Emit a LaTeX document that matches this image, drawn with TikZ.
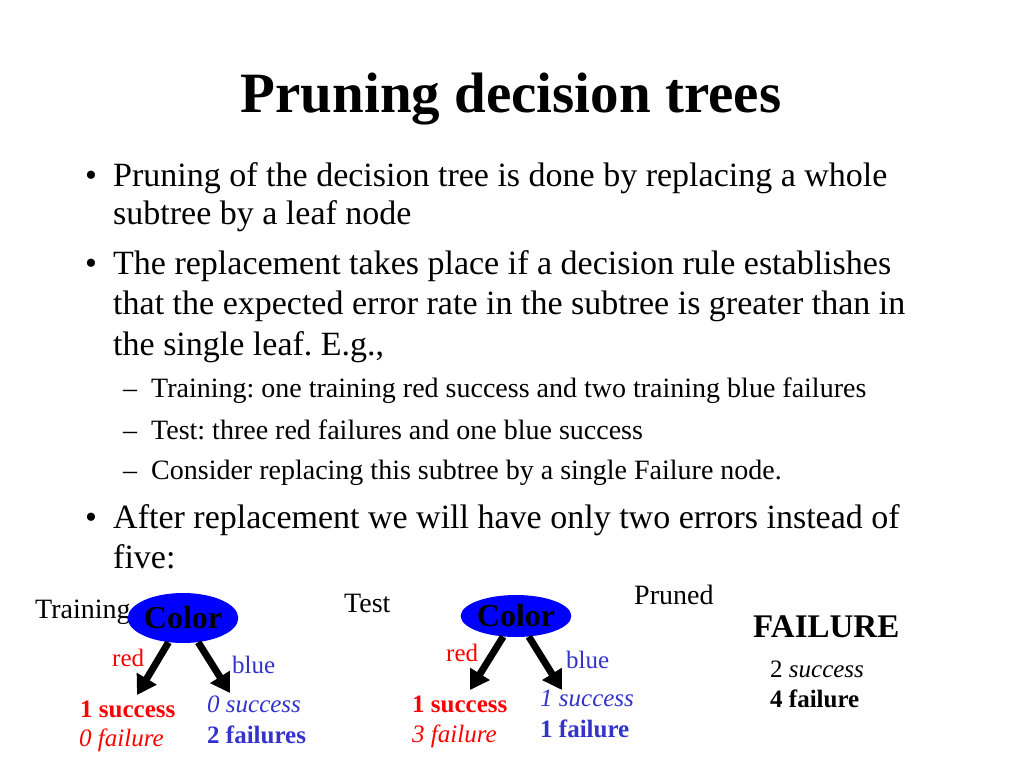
\documentclass[tikz,border=0pt]{standalone}
\usepackage{fontspec}
\setmainfont{Liberation Serif}
\usetikzlibrary{arrows.meta,shapes.geometric}
\definecolor{leafred}{RGB}{255,0,0}
\definecolor{leafblue}{RGB}{51,51,204}
\definecolor{nodeblue}{RGB}{0,0,255}
\frenchspacing
\begin{document}
\begin{tikzpicture}[x=1pt,y=-1pt,
  body/.style={anchor=base west,inner sep=0pt,font=\fontsize{34}{40}\selectfont},
  sub/.style={anchor=base west,inner sep=0pt,font=\fontsize{28}{32}\selectfont},
  leaf/.style={anchor=base west,inner sep=0pt,font=\fontsize{25}{28}\selectfont},
  colornode/.style={ellipse,fill=nodeblue,inner sep=0pt,font=\bfseries\fontsize{32}{32}\selectfont},
  branch/.style={line width=7pt,-{Triangle[length=19pt,width=22pt]}}]
\useasboundingbox (0,0) rectangle (1024,768);
\node[anchor=base,inner sep=0pt,font=\bfseries\fontsize{57}{60}\selectfont] (title) at (511,112) {Pruning decision trees};
\node[body] (d1) at (85,186) {•};
\node[body] (b1a) at (113,186) {Pruning of the decision tree is done by replacing a whole};
\node[body] (b1b) at (113,224) {subtree by a leaf node};
\node[body] (d2) at (85,274) {•};
\node[body] (b2a) at (113,274) {The replacement takes place if a decision rule establishes};
\node[body] (b2b) at (113,314) {that the expected error rate in the subtree is greater than in};
\node[body] (b2c) at (113,355) {the single leaf. E.g.,};
\node[sub] (s1d) at (123,397) {--};
\node[sub] (s1) at (151,397) {Training: one training red success and two training blue failures};
\node[sub] (s2d) at (123,439) {--};
\node[sub] (s2) at (151,439) {Test: three red failures and one blue success};
\node[sub] (s3d) at (123,479) {--};
\node[sub] (s3) at (151,479) {Consider replacing this subtree by a single Failure node.};
\node[body] (d3) at (85,528) {•};
\node[body] (b3a) at (113,528) {After replacement we will have only two errors instead of};
\node[body] (b3b) at (113,568) {five:};
% training tree
\node[sub] (train) at (35,618) {Training};
\node[colornode,minimum width=96pt,minimum height=50pt] (color1) at (183,618) {Color};
\coordinate (t1r) at (137,695);
\coordinate (t1b) at (230,693);
\draw[branch] (color1) -- (t1r);
\draw[branch] (color1) -- (t1b);
\node[leaf,text=leafred] (r1) at (112,666) {red};
\node[leaf,text=leafblue] (u1) at (232,673) {blue};
\node[leaf,text=leafred,font=\bfseries\fontsize{25}{28}\selectfont] (l1s) at (80,717) {1 success};
\node[leaf,text=leafred,font=\itshape\fontsize{25}{28}\selectfont] (l1f) at (79,746) {0 failure};
\node[leaf,text=leafblue,font=\itshape\fontsize{25}{28}\selectfont] (r1s) at (207,712) {0 success};
\node[leaf,text=leafblue,font=\bfseries\fontsize{25}{28}\selectfont] (r1f) at (207,743) {2 failures};
% test tree
\node[sub] (test) at (344,612) {Test};
\node[colornode,minimum width=95pt,minimum height=42pt] (color2) at (516,616) {Color};
\coordinate (t2r) at (470,690);
\coordinate (t2b) at (562,690);
\draw[branch] (color2) -- (t2r);
\draw[branch] (color2) -- (t2b);
\node[leaf,text=leafred] (r2) at (446,661) {red};
\node[leaf,text=leafblue] (u2) at (566,668) {blue};
\node[leaf,text=leafred,font=\bfseries\fontsize{25}{28}\selectfont] (l2s) at (412,712) {1 success};
\node[leaf,text=leafred,font=\itshape\fontsize{25}{28}\selectfont] (l2f) at (412,742) {3 failure};
\node[leaf,text=leafblue,font=\itshape\fontsize{25}{28}\selectfont] (r2s) at (540,706) {1 success};
\node[leaf,text=leafblue,font=\bfseries\fontsize{25}{28}\selectfont] (r2f) at (540,737) {1 failure};
% pruned
\node[sub] (pruned) at (634,604) {Pruned};
\node[anchor=base west,inner sep=0pt,font=\bfseries\fontsize{33}{36}\selectfont] (fail) at (753,637) {FAILURE};
\node[leaf] (p1) at (770,677) {2 \textit{success}};
\node[leaf,font=\bfseries\fontsize{25}{28}\selectfont] (p2) at (770,707) {4 failure};
\end{tikzpicture}
\end{document}
